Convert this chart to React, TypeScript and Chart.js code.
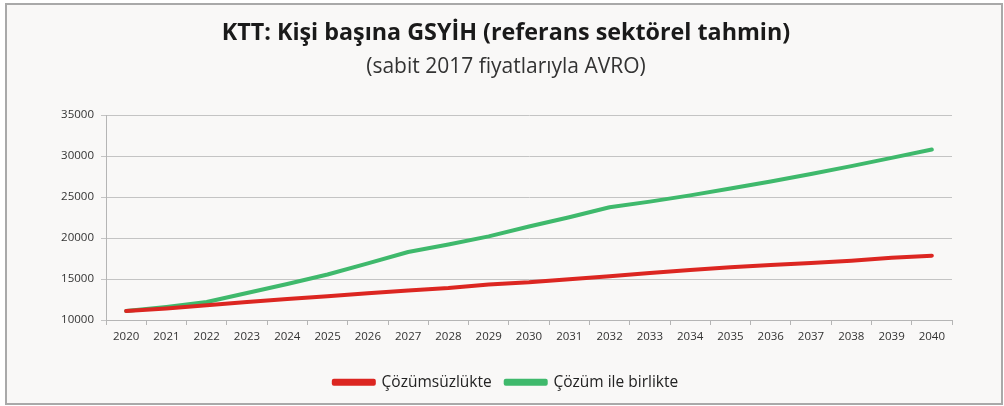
import React, { useEffect, useRef } from "react";
import { Chart, registerables } from "chart.js";

Chart.register(...registerables);

const categories = [
  "2020", "2021", "2022", "2023", "2024", "2025", "2026", "2027", "2028", "2029", "2030",
  "2031", "2032", "2033", "2034", "2035", "2036", "2037", "2038", "2039", "2040",
];

const withoutSolution = [
  11100, 11400, 11800, 12200, 12550, 12900, 13270, 13600, 13900, 14330, 14600,
  14980, 15340, 15740, 16100, 16430, 16710, 16950, 17240, 17600, 17850,
];

const withSolution = [
  11100, 11600, 12200, 13300, 14400, 15550, 16900, 18300, 19200, 20200, 21400,
  22540, 23750, 24440, 25200, 26050, 26900, 27800, 28770, 29780, 30790,
];

const seriesNames = ["Çözümsüzlükte", "Çözüm ile birlikte"];
const titleText = "KTT: Kişi başına GSYİH (referans sektörel tahmin)";
const subtitleText = "(sabit 2017 fiyatlarıyla AVRO)";
const yMin = 10000;
const yMax = 35000;
const yStep = 5000;

const RED = "#dc2621";
const GREEN = "#3fb96c";
const FONT = "'Open Sans', 'DejaVu Sans', sans-serif";

export default function App() {
  const ref = useRef<HTMLCanvasElement | null>(null);

  useEffect(() => {
    if (!ref.current) return;
    const chart = new Chart(ref.current, {
      type: "line",
      data: {
        labels: categories,
        datasets: [
          {
            label: seriesNames[0],
            data: withoutSolution,
            borderColor: RED,
            backgroundColor: RED,
            borderWidth: 4,
            pointRadius: 0,
            tension: 0,
            borderCapStyle: "round",
            borderJoinStyle: "round",
          },
          {
            label: seriesNames[1],
            data: withSolution,
            borderColor: GREEN,
            backgroundColor: GREEN,
            borderWidth: 4,
            pointRadius: 0,
            tension: 0,
            borderCapStyle: "round",
            borderJoinStyle: "round",
          },
        ],
      },
      options: {
        animation: false,
        responsive: false,
        maintainAspectRatio: false,
        layout: { padding: { left: 60, right: 52, top: 0, bottom: 6 } },
        plugins: {
          title: {
            display: true,
            text: titleText,
            color: "#1a1a1a",
            font: { family: FONT, size: 23.3, weight: "bold" },
            padding: { top: 19.5, bottom: 7 },
          },
          subtitle: {
            display: true,
            text: subtitleText,
            color: "#333333",
            font: { family: FONT, size: 21, weight: "normal" },
            padding: { top: 0, bottom: 35.4 },
          },
          legend: {
            position: "bottom",
            labels: {
              boxWidth: 40,
              boxHeight: 3,
              padding: 14,
              color: "#222222",
              font: { family: FONT, size: 15.5 },
            },
          },
          tooltip: { enabled: false },
        },
        scales: {
          x: {
            offset: true,
            grid: {
              display: true,
              drawOnChartArea: false,
              offset: true,
              tickLength: 5,
              color: "#b5b5b5",
            },
            border: { color: "#b5b5b5", width: 1 },
            ticks: {
              color: "#333333",
              font: { family: FONT, size: 11.5 },
              padding: 5,
              maxRotation: 0,
              autoSkip: false,
            },
            afterFit: (scale: any) => {
              scale.height = 40.5;
            },
          },
          y: {
            min: yMin,
            max: yMax,
            grid: { color: "#c4c4c4", tickLength: 5, lineWidth: 1 },
            border: { color: "#b5b5b5", width: 1 },
            ticks: {
              stepSize: yStep,
              color: "#333333",
              font: { family: FONT, size: 11.5 },
              padding: 7,
              callback: (v: any) => String(v),
            },
            afterFit: (scale: any) => {
              scale.width = 46;
            },
          },
        },
      },
    });
    return () => chart.destroy();
  }, []);

  return (
    <div
      style={{
        position: "fixed",
        left: 0,
        top: 0,
        width: 1004,
        height: 406,
        background: "#ffffff",
      }}
    >
      <div
        style={{
          position: "absolute",
          left: 5,
          top: 3,
          width: 998,
          height: 402,
          boxSizing: "border-box",
          border: "2px solid #a9a9a9",
          background: "#f9f8f7",
        }}
      />
      <canvas
        ref={ref}
        width={1004}
        height={406}
        style={{ position: "absolute", left: 0, top: 0, width: 1004, height: 406 }}
      />
    </div>
  );
}
